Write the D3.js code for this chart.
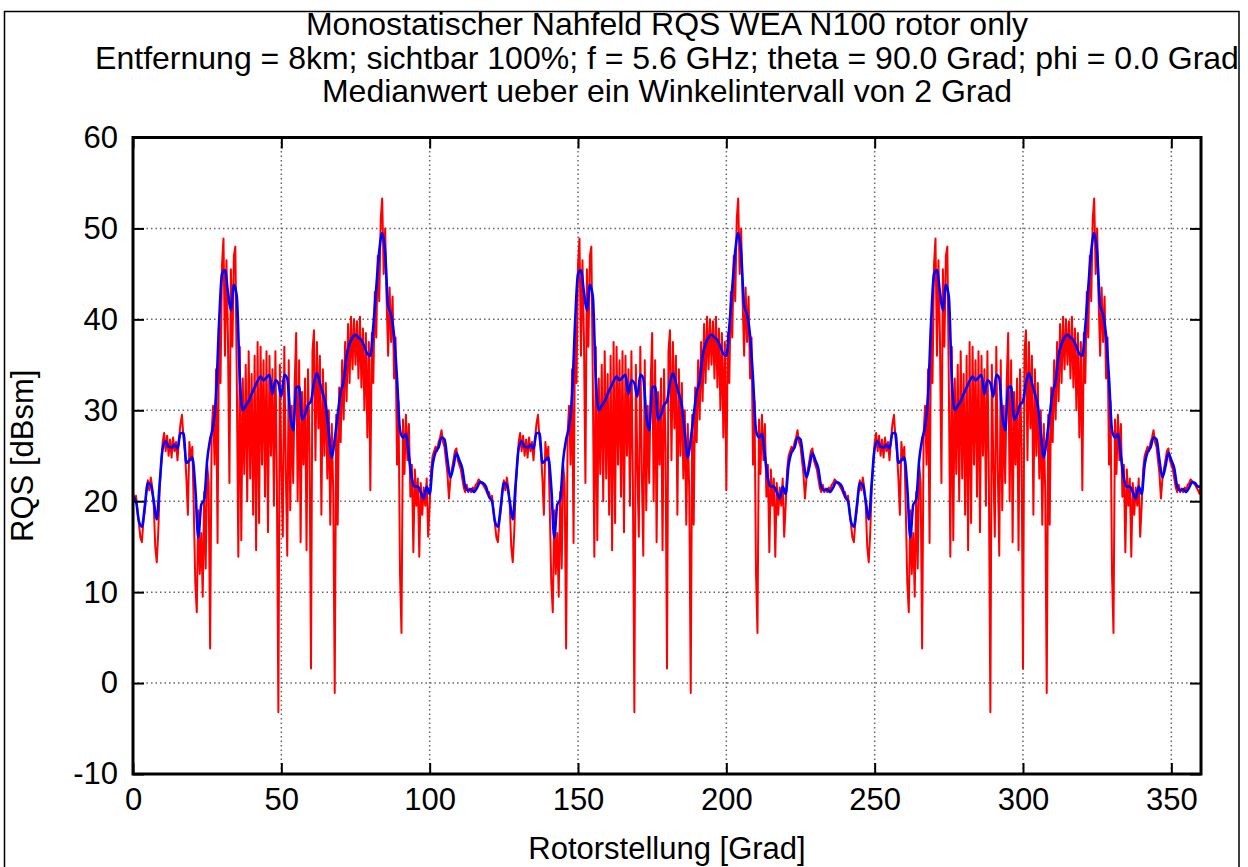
<!DOCTYPE html>
<html><head><meta charset="utf-8">
<script src="https://cdn.jsdelivr.net/npm/d3@7"></script>
<style>
body{margin:0;background:#fff}
svg{display:block}
text{font-family:"Liberation Sans",Arial,Helvetica,sans-serif;fill:#000}
</style>
</head><body>
<svg id="chart" width="1248" height="867"></svg>
<script>
const titleLines = [
  "Monostatischer Nahfeld RQS WEA N100 rotor only",
  "Entfernung = 8km; sichtbar 100%; f = 5.6 GHz; theta = 90.0 Grad; phi = 0.0 Grad",
  "Medianwert ueber ein Winkelintervall von 2 Grad"
];
const xLabel = "Rotorstellung [Grad]";
const yLabel = "RQS [dBsm]";
const xTicks = [0, 50, 100, 150, 200, 250, 300, 350];
const yTicks = [-10, 0, 10, 20, 30, 40, 50, 60];
const xDomain = [0, 360];
const yDomain = [-10, 60];

// Median curve (blue), one value per degree 0..360
const blueStep = 1;
const blueValues = [
20.5,20.0,17.8,17.2,19.5,22.0,21.8,20.0,18.0,22.0,
25.8,26.6,26.0,25.9,26.2,25.8,27.5,27.5,24.2,24.5,
24.8,21.5,16.0,19.6,20.2,24.5,26.8,28.2,31.5,39.5,
45.0,45.4,43.0,41.0,43.8,42.5,33.5,30.0,30.5,31.0,
31.8,32.5,33.2,33.7,33.3,33.6,33.9,31.8,33.3,33.0,
31.5,33.9,33.5,29.5,27.8,32.5,32.6,29.0,29.5,30.6,
31.0,33.0,34.1,33.0,31.8,30.5,27.5,24.8,26.8,29.5,
32.0,33.2,36.0,37.3,38.0,38.3,38.0,37.7,37.0,36.2,
36.0,39.2,43.5,47.5,49.5,47.3,41.5,40.5,38.2,33.5,
27.8,27.0,27.4,25.0,22.5,21.6,21.6,21.0,20.3,21.6,
20.8,24.0,25.4,25.9,27.0,26.8,24.5,22.6,23.8,25.3,
24.5,23.6,21.6,21.2,21.3,21.0,21.5,22.1,22.0,21.6,
20.5,20.0,17.8,17.2,19.5,22.0,21.8,20.0,18.0,22.0,
25.8,26.6,26.0,25.9,26.2,25.8,27.5,27.5,24.2,24.5,
24.8,21.5,16.0,19.6,20.2,24.5,26.8,28.2,31.5,39.5,
45.0,45.4,43.0,41.0,43.8,42.5,33.5,30.0,30.5,31.0,
31.8,32.5,33.2,33.7,33.3,33.6,33.9,31.8,33.3,33.0,
31.5,33.9,33.5,29.5,27.8,32.5,32.6,29.0,29.5,30.6,
31.0,33.0,34.1,33.0,31.8,30.5,27.5,24.8,26.8,29.5,
32.0,33.2,36.0,37.3,38.0,38.3,38.0,37.7,37.0,36.2,
36.0,39.2,43.5,47.5,49.5,47.3,41.5,40.5,38.2,33.5,
27.8,27.0,27.4,25.0,22.5,21.6,21.6,21.0,20.3,21.6,
20.8,24.0,25.4,25.9,27.0,26.8,24.5,22.6,23.8,25.3,
24.5,23.6,21.6,21.2,21.3,21.0,21.5,22.1,22.0,21.6,
20.5,20.0,17.8,17.2,19.5,22.0,21.8,20.0,18.0,22.0,
25.8,26.6,26.0,25.9,26.2,25.8,27.5,27.5,24.2,24.5,
24.8,21.5,16.0,19.6,20.2,24.5,26.8,28.2,31.5,39.5,
45.0,45.4,43.0,41.0,43.8,42.5,33.5,30.0,30.5,31.0,
31.8,32.5,33.2,33.7,33.3,33.6,33.9,31.8,33.3,33.0,
31.5,33.9,33.5,29.5,27.8,32.5,32.6,29.0,29.5,30.6,
31.0,33.0,34.1,33.0,31.8,30.5,27.5,24.8,26.8,29.5,
32.0,33.2,36.0,37.3,38.0,38.3,38.0,37.7,37.0,36.2,
36.0,39.2,43.5,47.5,49.5,47.3,41.5,40.5,38.2,33.5,
27.8,27.0,27.4,25.0,22.5,21.6,21.6,21.0,20.3,21.6,
20.8,24.0,25.4,25.9,27.0,26.8,24.5,22.6,23.8,25.3,
24.5,23.6,21.6,21.2,21.3,21.0,21.5,22.1,22.0,21.6,
21.6
];

// Raw RCS (red), one value per half degree 0..360
const redStep = 0.5;
const redValues = [
21.0,20.2,20.6,19.0,17.5,16.0,15.5,17.8,19.0,21.0,
22.3,21.2,22.6,21.5,19.5,15.0,13.3,16.5,21.5,24.0,
26.5,27.5,25.5,27.2,25.0,26.8,24.8,27.0,25.5,26.5,
24.5,26.8,28.5,29.5,27.0,25.5,22.5,18.5,26.5,24.5,
26.0,19.0,11.0,7.8,19.0,12.0,16.5,9.5,21.0,12.6,
24.0,22.0,3.8,27.5,30.5,24.0,34.5,15.4,40.0,33.0,
46.0,48.9,36.0,46.5,38.0,22.0,45.5,37.0,47.0,48.0,
33.0,13.9,37.0,15.7,33.5,23.0,35.0,20.0,36.5,22.5,
34.0,18.5,36.0,14.6,37.5,17.6,37.0,24.0,35.5,20.5,
36.5,16.6,36.0,25.0,34.5,19.5,36.5,22.0,-3.2,35.0,
24.0,16.1,37.0,23.5,14.0,35.5,19.0,30.5,22.0,33.0,
38.5,20.0,35.5,15.5,32.0,24.0,33.5,14.6,34.5,26.0,
1.6,36.5,38.8,24.5,37.5,28.0,36.0,18.5,34.5,25.0,
33.0,22.5,30.0,17.4,28.5,21.0,-1.1,29.5,17.4,32.5,
26.5,35.5,29.0,37.5,31.0,39.5,33.0,40.3,34.5,40.0,
35.0,39.8,33.5,40.3,32.5,39.0,30.0,38.5,27.0,37.5,
21.2,38.5,33.0,43.0,38.0,47.0,42.0,51.0,53.3,45.0,
50.0,42.0,36.0,43.5,37.5,42.5,33.5,38.0,24.0,31.0,
12.1,5.5,29.0,23.0,29.5,24.5,28.5,20.5,24.0,14.4,
23.5,19.5,22.5,13.9,22.0,18.5,21.5,19.5,22.5,16.1,
19.5,23.5,25.0,25.5,26.0,25.5,26.5,27.0,27.8,26.5,
26.0,24.5,23.0,20.3,22.5,23.5,24.5,25.5,25.8,24.5,
24.0,23.5,22.5,21.5,21.0,21.8,21.0,21.4,21.0,21.5,
21.2,21.8,22.0,22.4,22.2,22.0,21.8,21.5,21.2,20.8,
21.0,20.2,20.6,19.0,17.5,16.0,15.5,17.8,19.0,21.0,
22.3,21.2,22.6,21.5,19.5,15.0,13.3,16.5,21.5,24.0,
26.5,27.5,25.5,27.2,25.0,26.8,24.8,27.0,25.5,26.5,
24.5,26.8,28.5,29.5,27.0,25.5,22.5,18.5,26.5,24.5,
26.0,19.0,11.0,7.8,19.0,12.0,16.5,9.5,21.0,12.6,
24.0,22.0,3.8,27.5,30.5,24.0,34.5,15.4,40.0,33.0,
46.0,48.9,36.0,46.5,38.0,22.0,45.5,37.0,47.0,48.0,
33.0,13.9,37.0,15.7,33.5,23.0,35.0,20.0,36.5,22.5,
34.0,18.5,36.0,14.6,37.5,17.6,37.0,24.0,35.5,20.5,
36.5,16.6,36.0,25.0,34.5,19.5,36.5,22.0,-3.2,35.0,
24.0,16.1,37.0,23.5,14.0,35.5,19.0,30.5,22.0,33.0,
38.5,20.0,35.5,15.5,32.0,24.0,33.5,14.6,34.5,26.0,
1.6,36.5,38.8,24.5,37.5,28.0,36.0,18.5,34.5,25.0,
33.0,22.5,30.0,17.4,28.5,21.0,-1.1,29.5,17.4,32.5,
26.5,35.5,29.0,37.5,31.0,39.5,33.0,40.3,34.5,40.0,
35.0,39.8,33.5,40.3,32.5,39.0,30.0,38.5,27.0,37.5,
21.2,38.5,33.0,43.0,38.0,47.0,42.0,51.0,53.3,45.0,
50.0,42.0,36.0,43.5,37.5,42.5,33.5,38.0,24.0,31.0,
12.1,5.5,29.0,23.0,29.5,24.5,28.5,20.5,24.0,14.4,
23.5,19.5,22.5,13.9,22.0,18.5,21.5,19.5,22.5,16.1,
19.5,23.5,25.0,25.5,26.0,25.5,26.5,27.0,27.8,26.5,
26.0,24.5,23.0,20.3,22.5,23.5,24.5,25.5,25.8,24.5,
24.0,23.5,22.5,21.5,21.0,21.8,21.0,21.4,21.0,21.5,
21.2,21.8,22.0,22.4,22.2,22.0,21.8,21.5,21.2,20.8,
21.0,20.2,20.6,19.0,17.5,16.0,15.5,17.8,19.0,21.0,
22.3,21.2,22.6,21.5,19.5,15.0,13.3,16.5,21.5,24.0,
26.5,27.5,25.5,27.2,25.0,26.8,24.8,27.0,25.5,26.5,
24.5,26.8,28.5,29.5,27.0,25.5,22.5,18.5,26.5,24.5,
26.0,19.0,11.0,7.8,19.0,12.0,16.5,9.5,21.0,12.6,
24.0,22.0,3.8,27.5,30.5,24.0,34.5,15.4,40.0,33.0,
46.0,48.9,36.0,46.5,38.0,22.0,45.5,37.0,47.0,48.0,
33.0,13.9,37.0,15.7,33.5,23.0,35.0,20.0,36.5,22.5,
34.0,18.5,36.0,14.6,37.5,17.6,37.0,24.0,35.5,20.5,
36.5,16.6,36.0,25.0,34.5,19.5,36.5,22.0,-3.2,35.0,
24.0,16.1,37.0,23.5,14.0,35.5,19.0,30.5,22.0,33.0,
38.5,20.0,35.5,15.5,32.0,24.0,33.5,14.6,34.5,26.0,
1.6,36.5,38.8,24.5,37.5,28.0,36.0,18.5,34.5,25.0,
33.0,22.5,30.0,17.4,28.5,21.0,-1.1,29.5,17.4,32.5,
26.5,35.5,29.0,37.5,31.0,39.5,33.0,40.3,34.5,40.0,
35.0,39.8,33.5,40.3,32.5,39.0,30.0,38.5,27.0,37.5,
21.2,38.5,33.0,43.0,38.0,47.0,42.0,51.0,53.3,45.0,
50.0,42.0,36.0,43.5,37.5,42.5,33.5,38.0,24.0,31.0,
12.1,5.5,29.0,23.0,29.5,24.5,28.5,20.5,24.0,14.4,
23.5,19.5,22.5,13.9,22.0,18.5,21.5,19.5,22.5,16.1,
19.5,23.5,25.0,25.5,26.0,25.5,26.5,27.0,27.8,26.5,
26.0,24.5,23.0,20.3,22.5,23.5,24.5,25.5,25.8,24.5,
24.0,23.5,22.5,21.5,21.0,21.8,21.0,21.4,21.0,21.5,
21.2,21.8,22.0,22.4,22.2,22.0,21.8,21.5,21.2,20.8,
21.8
];

const svg = d3.select("#chart");
const L = 133, R = 1201, T = 137.5, B = 774;
const x = d3.scaleLinear().domain(xDomain).range([L, R]);
const y = d3.scaleLinear().domain(yDomain).range([B, T]);

// outer frame
svg.append("rect").attr("x", 4.5).attr("y", 11.5).attr("width", 1234.5).attr("height", 900)
  .attr("fill", "none").attr("stroke", "#000").attr("stroke-width", 1.5);

// grid
const grid = svg.append("g").attr("stroke", "#666").attr("stroke-width", 1.5)
  .attr("stroke-dasharray", "1.5,3");
grid.selectAll("line.v").data(xTicks.filter(d => d > xDomain[0] && d < xDomain[1]))
  .join("line").attr("class", "v")
  .attr("x1", d => x(d)).attr("x2", d => x(d)).attr("y1", T).attr("y2", B);
grid.selectAll("line.h").data(yTicks.filter(d => d > yDomain[0] && d < yDomain[1]))
  .join("line").attr("class", "h")
  .attr("y1", d => y(d)).attr("y2", d => y(d)).attr("x1", L).attr("x2", R);

// data
svg.append("clipPath").attr("id", "clip").append("rect")
  .attr("x", L).attr("y", T).attr("width", R - L).attr("height", B - T);
const plot = svg.append("g").attr("clip-path", "url(#clip)");
const line = d3.line().x(d => x(d[0])).y(d => y(d[1]));
const redData = redValues.map((v, i) => [i * redStep, v]);
const blueData = blueValues.map((v, i) => [i * blueStep, v]);
plot.append("path").datum(redData).attr("d", line)
  .attr("fill", "none").attr("stroke", "#ff0000").attr("stroke-width", 2).attr("stroke-linejoin", "round");
plot.append("path").datum(blueData).attr("d", d3.line().x(d => x(d[0])).y(d => y(d[1])).curve(d3.curveMonotoneX))
  .attr("fill", "none").attr("stroke", "#0000ff").attr("stroke-width", 2.6).attr("stroke-linejoin", "round");

// axes
const fs = 31;
const plain = d => String(d);
const ax = svg.append("g").attr("transform", `translate(0,${B})`)
  .call(d3.axisBottom(x).tickValues(xTicks).tickSize(-11).tickPadding(14).tickFormat(plain));
const ay = svg.append("g").attr("transform", `translate(${L},0)`)
  .call(d3.axisLeft(y).tickValues(yTicks).tickSize(-11).tickPadding(15).tickFormat(plain));
const at = svg.append("g").attr("transform", `translate(0,${T})`)
  .call(d3.axisTop(x).tickValues(xTicks).tickSize(-11).tickFormat(""));
const ar = svg.append("g").attr("transform", `translate(${R},0)`)
  .call(d3.axisRight(y).tickValues(yTicks).tickSize(-11).tickFormat(""));
[ax, ay, at, ar].forEach(g => {
  g.select(".domain").remove();
  g.selectAll(".tick line").attr("stroke", "#000").attr("stroke-width", 2);
  g.selectAll(".tick text").attr("font-size", fs).attr("font-family", '"Liberation Sans",Arial,sans-serif').attr("fill", "#000");
});

// plot frame
svg.append("rect").attr("x", L).attr("y", T).attr("width", R - L).attr("height", B - T)
  .attr("fill", "none").attr("stroke", "#000").attr("stroke-width", 3);

// titles
svg.append("g").selectAll("text").data(titleLines).join("text")
  .attr("x", (L + R) / 2).attr("y", (d, i) => 35 + i * 33.5)
  .attr("text-anchor", "middle").attr("font-size", 32).text(d => d);

svg.append("text").attr("x", (L + R) / 2).attr("y", 859)
  .attr("text-anchor", "middle").attr("font-size", fs).text(xLabel);
svg.append("text").attr("transform", `translate(33,${(T + B) / 2}) rotate(-90)`)
  .attr("text-anchor", "middle").attr("font-size", fs).text(yLabel);
</script>
</body></html>
